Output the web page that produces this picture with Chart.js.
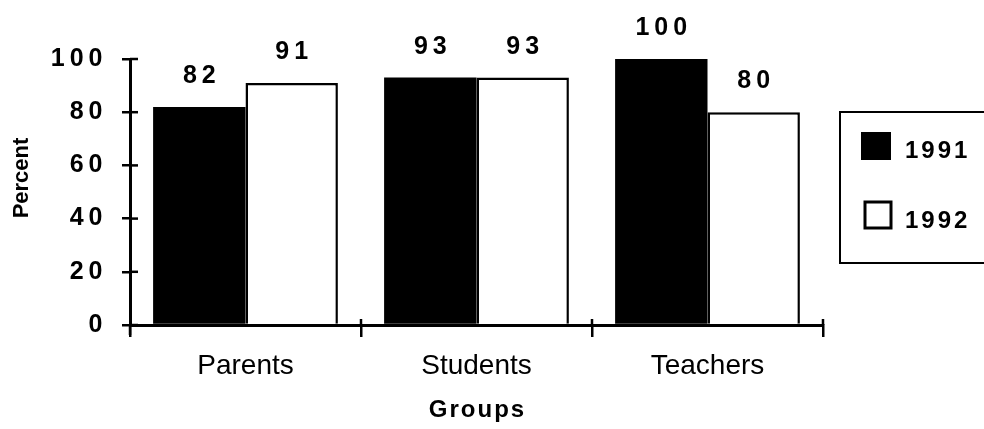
<!DOCTYPE html>
<html>
<head>
<meta charset="utf-8">
<style>
  html, body { margin: 0; padding: 0; background: #fff; }
  #wrap { width: 984px; height: 429px; }
</style>
<script src="https://cdn.jsdelivr.net/npm/chart.js@4.4.0/dist/chart.umd.min.js"></script>
</head>
<body>
<div id="wrap"><canvas id="c" width="984" height="429"></canvas></div>
<script>
// ---- data ----
const categories = ["Parents", "Students", "Teachers"];
const seriesNames = ["1991", "1992"];
const values1991 = [82, 93, 100];
const values1992 = [91, 93, 80];
const yTicks = [0, 20, 40, 60, 80, 100];
const xTitle = "Groups";
const yTitle = "Percent";

const FONT = "'Liberation Sans', Arial, Helvetica, sans-serif";

function patchSpacing(chart, scale, method, spacing) {
  const key = '_ls_' + method;
  if (scale[key]) return;
  const orig = scale[method].bind(scale);
  scale[method] = function (a) {
    const c = chart.ctx;
    c.save();
    c.letterSpacing = spacing + 'px';
    c.translate(spacing / 2, 0);
    orig(a);
    c.restore();
  };
  scale[key] = true;
}

const axisExtras = {
  id: 'axisExtras',
  afterLayout(chart) {
    patchSpacing(chart, chart.scales.y, 'drawLabels', 5);
    patchSpacing(chart, chart.scales.x, 'drawTitle', 2);
  },
  afterDraw(chart) {
    const ctx = chart.ctx;
    const y = chart.scales.y, x = chart.scales.x;
    const area = chart.chartArea;
    ctx.save();
    ctx.strokeStyle = '#000';
    ctx.lineWidth = 2.5;
    // inner halves of y ticks
    y.ticks.forEach(t => {
      const py = y.getPixelForValue(t.value);
      ctx.beginPath();
      ctx.moveTo(area.left, py);
      ctx.lineTo(area.left + 8, py);
      ctx.stroke();
    });
    // y axis extends a bit below zero
    ctx.beginPath();
    ctx.moveTo(area.left, area.bottom);
    ctx.lineTo(area.left, area.bottom + 10);
    ctx.stroke();
    // inner part of x ticks at category boundaries
    const step = x.getPixelForValue(1) - x.getPixelForValue(0);
    for (let i = 0; i < categories.length; i++) {
      const px = x.getPixelForValue(i) + step / 2;
      ctx.beginPath();
      ctx.moveTo(px, area.bottom);
      ctx.lineTo(px, area.bottom - 6);
      ctx.stroke();
    }
    // y title
    ctx.save();
    ctx.translate(22, 178);
    ctx.rotate(-Math.PI / 2);
    ctx.font = 'bold 22px ' + FONT;
    ctx.fillStyle = '#000';
    ctx.textAlign = 'center';
    ctx.textBaseline = 'middle';
    ctx.fillText(yTitle, 0, 0);
    ctx.restore();
    ctx.restore();
  }
};

const valueLabels = {
  id: 'valueLabels',
  afterDatasetsDraw(chart) {
    const ctx = chart.ctx;
    ctx.save();
    ctx.font = 'bold 25px ' + FONT;
    ctx.letterSpacing = '5px';
    ctx.fillStyle = '#000';
    ctx.textAlign = 'center';
    ctx.textBaseline = 'alphabetic';
    chart.data.datasets.forEach((ds, di) => {
      const meta = chart.getDatasetMeta(di);
      meta.data.forEach((bar, i) => {
        ctx.fillText(String(ds.data[i]), bar.x + 2.5, bar.y - 24);
      });
    });
    ctx.restore();
  }
};

const boxLegend = {
  id: 'boxLegend',
  afterDraw(chart) {
    const ctx = chart.ctx;
    ctx.save();
    ctx.strokeStyle = '#000';
    ctx.lineWidth = 2;
    ctx.strokeRect(840, 112, 160, 151);
    const items = chart.data.datasets;
    ctx.font = 'bold 24px ' + FONT;
    ctx.letterSpacing = '3px';
    ctx.textBaseline = 'alphabetic';
    ctx.textAlign = 'left';
    // 1991
    ctx.fillStyle = items[0].backgroundColor;
    ctx.fillRect(861, 132, 30, 28);
    ctx.fillStyle = '#000';
    ctx.fillText(items[0].label, 905, 158);
    // 1992
    ctx.fillStyle = items[1].backgroundColor;
    ctx.fillRect(865, 202, 26, 26);
    ctx.lineWidth = 3;
    ctx.strokeRect(865, 202, 26, 26);
    ctx.fillStyle = '#000';
    ctx.fillText(items[1].label, 905, 228);
    ctx.restore();
  }
};

new Chart(document.getElementById('c'), {
  type: 'bar',
  data: {
    labels: categories,
    datasets: [
      { label: seriesNames[0], data: values1991, backgroundColor: '#000', borderColor: '#000', borderWidth: 0,
        categoryPercentage: 0.8, barPercentage: 1.0 },
      { label: seriesNames[1], data: values1992, backgroundColor: '#fff', borderColor: '#000', borderWidth: 2.5,
        categoryPercentage: 0.8, barPercentage: 1.0 }
    ]
  },
  options: {
    responsive: false,
    animation: false,
    devicePixelRatio: 1,
    layout: { padding: { top: 59, right: 161, left: 0, bottom: 0 } },
    plugins: {
      legend: { display: false },
      tooltip: { enabled: false }
    },
    scales: {
      x: {
        afterFit(s) { s.height = 104; },
        grid: { display: true, drawOnChartArea: false, offset: true, tickLength: 12, color: '#000', lineWidth: 2.5 },
        border: { display: true, color: '#000', width: 3 },
        ticks: { color: '#000', font: { family: FONT, size: 28 }, padding: 12, maxRotation: 0 },
        title: { display: true, text: xTitle, color: '#000', font: { family: FONT, size: 24, weight: 'bold' }, padding: { top: 0, bottom: 4 } }
      },
      y: {
        min: 0, max: 100,
        afterFit(s) { s.width = 130; },
        afterBuildTicks(s) { s.ticks = yTicks.map(v => ({ value: v })); },
        grid: { display: true, drawOnChartArea: false, tickLength: 8, color: '#000', lineWidth: 2.5 },
        border: { display: true, color: '#000', width: 3 },
        ticks: { color: '#000', font: { family: FONT, size: 25, weight: 'bold' }, padding: 17 }
      }
    }
  },
  plugins: [axisExtras, valueLabels, boxLegend]
});
</script>
</body>
</html>
